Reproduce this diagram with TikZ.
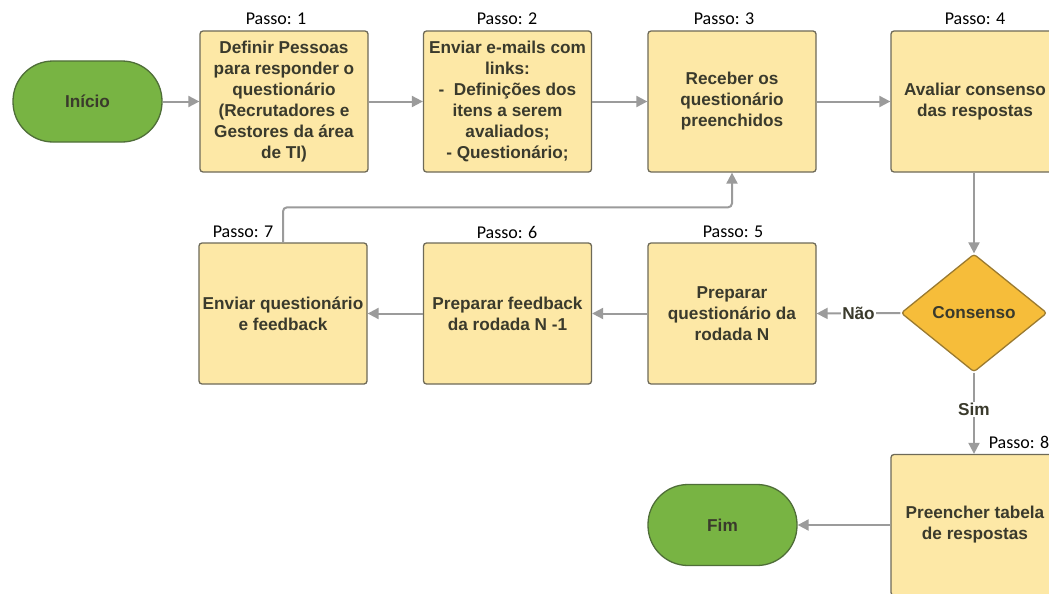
\documentclass[tikz,border=0pt]{standalone}
\usepackage{fontspec}
\setmainfont{Liberation Sans}
\newfontfamily\passofont{Carlito}
\usetikzlibrary{arrows.meta,shapes.geometric}
\definecolor{boxfill}{HTML}{FDE8A6}
\definecolor{boxdraw}{HTML}{6E6A58}
\definecolor{greenfill}{HTML}{78B443}
\definecolor{greendraw}{HTML}{4F6E38}
\definecolor{ambfill}{HTML}{F6BD3A}
\definecolor{ambdraw}{HTML}{9A7A30}
\definecolor{linegray}{HTML}{9B9B9B}
\definecolor{txt}{HTML}{3A3A2C}
\begin{document}
\begin{tikzpicture}[x=1pt,y=-1pt,
  stepbox/.style={draw=boxdraw,fill=boxfill,line width=1.3pt,rounded corners=3pt,
    minimum width=168pt,minimum height=141pt,inner sep=0pt,align=center,
    text=txt,font=\fontsize{17.2}{21}\selectfont\bfseries},
  term/.style={draw=greendraw,fill=greenfill,line width=1.3pt,rounded corners=40pt,
    minimum width=149pt,minimum height=81pt,inner sep=0pt,
    text=txt,font=\fontsize{17.2}{21}\selectfont\bfseries},
  decision/.style={diamond,draw=ambdraw,fill=ambfill,line width=1.3pt,rounded corners=3pt,
    minimum width=146pt,minimum height=118pt,inner sep=0pt,
    text=txt,font=\fontsize{17.2}{21}\selectfont\bfseries},
  passo/.style={font=\passofont\fontsize{18}{20}\selectfont,text=black,inner sep=0pt},
  arr/.style={draw=linegray,line width=2pt,-{Triangle[length=11pt,width=11pt]}},
  lab/.style={fill=white,inner sep=1pt,text=txt,font=\fontsize{17.2}{20}\selectfont\bfseries}
]
\clip (0,0) rectangle (1049,594);
\fill[white] (0,0) rectangle (1049,594);

\node[term] (inicio) at (87.5,101.5) {Início};
\node[stepbox] (b1) at (284,101.5) {Definir Pessoas\\para responder o\\questionário\\(Recrutadores e\\Gestores da área\\de TI)};
\node[stepbox] (b2) at (507.5,101.5) {Enviar e-mails com\\links:\\-\ \ Definições dos\\itens a serem\\avaliados;\\- Questionário;};
\node[stepbox] (b3) at (732,101.5) {Receber os\\questionário\\preenchidos};
\node[stepbox] (b4) at (975,101.5) {Avaliar consenso\\das respostas};
\node[decision] (dec) at (974,313) {Consenso};
\node[stepbox] (b5) at (732,313.5) {Preparar\\questionário da\\rodada N};
\node[stepbox] (b6) at (507.5,313.5) {Preparar feedback\\da rodada N -1};
\node[stepbox] (b7) at (283,313.5) {Enviar questionário\\e feedback};
\node[stepbox] (b8) at (975,525) {Preencher tabela\\de respostas};
\node[term] (fim) at (722.5,525) {Fim};

\node[passo] (p1) at (276,19) {Passo: 1};
\node[passo] (p2) at (507,19) {Passo: 2};
\node[passo] (p3) at (724,19) {Passo: 3};
\node[passo] (p4) at (975,19) {Passo: 4};
\node[passo] (p5) at (733,232) {Passo: 5};
\node[passo] (p6) at (507,232) {Passo: 6};
\node[passo] (p7) at (243,232) {Passo: 7};
\node[passo] (p8) at (1019,442) {Passo: 8};

\draw[arr] (inicio) -- (b1);
\draw[arr] (b1) -- (b2);
\draw[arr] (b2) -- (b3);
\draw[arr] (b3) -- (b4);
\draw[arr] (b4.south -| dec.north) -- (dec.north);
\draw[arr] (dec.west) -- node[lab,pos=0.5] (nao) {Não} (b5.east);
\draw[arr] (b5) -- (b6);
\draw[arr] (b6) -- (b7);
\draw[arr,rounded corners=4pt] (b7.north) -- ++(0,-35) -| (b3.south);
\draw[arr] (dec.south) -- node[lab,pos=0.45] (sim) {Sim} (b8.north -| dec.south);
\draw[arr] (b8.west) -- (fim.east);
\end{tikzpicture}
\end{document}
